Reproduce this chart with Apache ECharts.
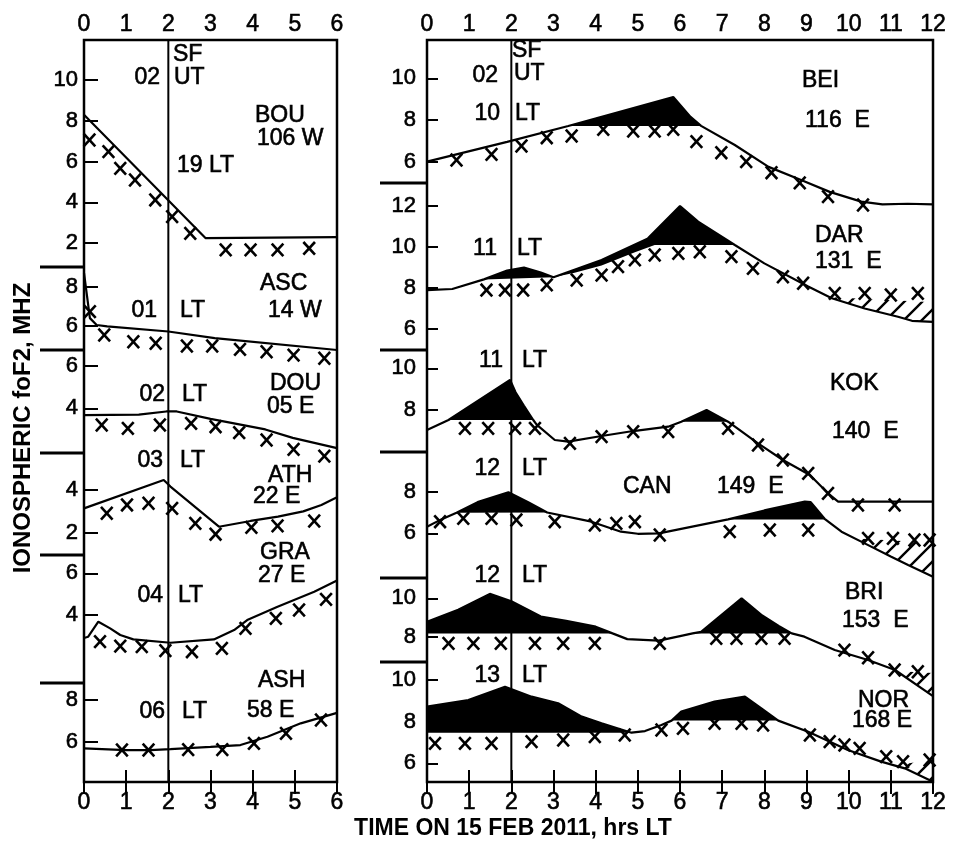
<!DOCTYPE html>
<html><head><meta charset="utf-8">
<script src="https://cdn.jsdelivr.net/npm/echarts@6/dist/echarts.min.js"></script>
<style>html,body{margin:0;padding:0;background:#fff}#c{width:953px;height:844px}</style>
</head><body><div id="c"></div>
<script>
// ---------- tick labels ----------
const leftHours = [0,1,2,3,4,5,6];
const rightHours = [0,1,2,3,4,5,6,7,8,9,10,11,12];
const sfHour = 2;

// ---------- left column (hours LT, foF2 MHz) ----------
const bouCurve = [[0,8.3],[2.88,2.25],[6,2.3]];
const bouObs = [[0.13,7.06],[0.58,6.49],[0.86,5.67],[1.21,5.1],[1.69,4.12],[2.09,3.3],[2.52,2.48],[3.36,1.67],[3.95,1.67],[4.59,1.67],[5.34,1.75]];
const bouTicks = [2,4,6,8,10];

const ascCurve = [[0,8.7],[0.14,6.4],[0.3,6.05],[0.55,5.98],[2,5.72],[3.1,5.38],[6,4.78]];
const ascObs = [[0.14,6.73],[0.48,5.54],[1.17,5.2],[1.7,5.12],[2.44,4.98],[3.04,4.98],[3.7,4.81],[4.33,4.69],[4.97,4.52],[5.7,4.36]];
const ascTicks = [6,8];

const douCurve = [[0,3.68],[1.3,3.7],[1.95,3.85],[2.2,3.85],[3.0,3.5],[4.3,3.0],[4.95,2.6],[6,2.12]];
const douObs = [[0.42,3.21],[1.04,3.05],[1.8,3.21],[2.54,3.29],[3.12,3.13],[3.68,2.85],[4.33,2.5],[4.97,2.06],[5.7,1.74]];
const douTicks = [4,6];

const athCurve = [[0,3.14],[1.89,4.47],[2.05,4.16],[3.2,2.28],[3.95,2.55],[4.6,2.75],[5.2,3.0],[5.63,3.3],[6,3.66]];
const athObs = [[0.54,2.91],[1.02,3.3],[1.53,3.38],[2.09,3.14],[2.64,2.44],[3.12,1.93],[3.97,2.25],[4.59,2.32],[5.46,2.55]];
const athTicks = [2,4];

const graCurve = [[0,2.9],[0.1,2.96],[0.34,3.68],[0.62,3.36],[0.86,3.04],[1.17,2.83],[2.05,2.67],[3.08,2.83],[3.56,3.28],[3.87,3.76],[4.59,4.4],[5.46,5.12],[6,5.66]];
const graObs = [[0.38,2.72],[0.86,2.51],[1.37,2.48],[1.93,2.29],[2.56,2.24],[3.27,2.4],[3.83,3.36],[4.55,3.84],[5.1,4.24],[5.74,4.75]];
const graTicks = [4,6];

const ashCurve = [[0,5.68],[1.0,5.6],[1.57,5.6],[2.05,5.64],[3.0,5.75],[3.71,5.84],[4.35,6.24],[5.14,6.88],[6,7.38]];
const ashObs = [[0.9,5.6],[1.53,5.6],[2.47,5.62],[3.28,5.62],[4.03,5.92],[4.79,6.4],[5.62,7.04]];
const ashTicks = [6,8];

// ---------- right column ----------
const beiCurve = [[0,6.0],[1.9,6.95],[3.35,7.71],[5.84,9.1],[6.25,8.15],[6.5,7.72],[7.3,6.8],[8.1,5.75],[8.9,5.1],[9.55,4.55],[10.3,4.08],[10.8,3.95],[11.4,3.98],[12,3.95]];
const beiObs = [[0.70,6.08],[1.53,6.35],[2.24,6.75],[2.84,7.15],[3.43,7.23],[4.18,7.55],[4.89,7.47],[5.40,7.47],[5.84,7.55],[6.39,6.96],[6.98,6.43],[7.57,6.0],[8.17,5.47],[8.84,4.98],[9.51,4.32],[10.34,3.92]];
const beiFills = [[[3.35,7.71],[5.84,9.1],[6.25,8.15],[6.5,7.71]]];
const beiTicks = [6,8,10];

const darCurve = [[0,7.9],[0.6,7.95],[1.35,8.42],[1.9,8.85],[2.3,9.0],[2.7,8.75],[3.0,8.52],[4.14,9.37],[5.24,10.42],[6.0,12.0],[6.43,11.24],[7.3,10.1],[8.0,9.2],[9.04,8.07],[9.6,7.5],[10.38,7.0],[11.17,6.6],[11.5,6.4],[12,6.35]];
const darObs = [[1.41,7.9],[1.85,7.9],[2.28,7.9],[2.84,8.15],[3.55,8.39],[4.14,8.63],[4.53,9.04],[4.93,9.37],[5.4,9.61],[5.96,9.69],[6.47,9.77],[7.22,9.53],[7.73,8.96],[8.44,8.55],[8.92,8.23],[9.67,7.74],[10.38,7.74],[11.0,7.66],[11.64,7.74]];
const darFills = [
  [[1.35,8.42],[1.9,8.85],[2.3,9.0],[2.7,8.75],[3.0,8.52]],
  [[3.0,8.52],[4.14,9.37],[5.24,10.42],[6.0,12.0],[6.43,11.24],[7.3,10.1],[5.4,10.1],[4.93,9.75],[4.14,9.1],[3.5,8.75]]
];
const darHatch = [[[9.6,7.55],[12,7.3],[12,6.35],[11.5,6.4],[11.17,6.6],[10.38,7.0],[9.6,7.5]]];
const darTicks = [6,8,10,12];

const kokCurve = [[0,7.04],[0.51,7.52],[1.97,9.44],[2.1,8.85],[2.3,8.2],[2.52,7.52],[2.6,7.3],[3.03,6.56],[3.35,6.48],[4.14,6.75],[4.89,6.99],[5.72,7.2],[6.03,7.44],[6.63,8.0],[7.14,7.44],[7.85,6.4],[8.44,5.6],[9.08,4.88],[9.51,4.0],[9.75,3.6],[12,3.6]];
const kokObs = [[0.9,7.12],[1.45,7.12],[2.09,7.12],[2.56,7.12],[3.39,6.4],[4.14,6.72],[4.89,6.96],[5.72,6.96],[7.14,7.12],[7.85,6.32],[8.44,5.6],[9.04,4.96],[9.51,4.0],[10.22,3.44],[11.09,3.44]];
const kokFills = [
  [[0.51,7.52],[1.97,9.44],[2.1,8.85],[2.3,8.2],[2.52,7.52]],
  [[6.03,7.44],[6.63,8.0],[7.14,7.44]]
];
const kokTicks = [8,10];

const canCurve = [[0,6.32],[0.27,6.6],[0.7,6.99],[1.2,7.5],[1.93,7.97],[2.4,7.5],[2.85,7.0],[3.9,6.56],[4.6,6.08],[5.0,5.98],[5.5,6.0],[7.14,6.67],[8.0,7.1],[8.96,7.52],[9.1,7.5],[9.43,6.7],[9.83,6.08],[10.38,5.52],[11.01,4.88],[11.41,4.48],[12,3.92]];
const canObs = [[0.31,6.56],[0.86,6.72],[1.53,6.72],[2.12,6.64],[3.03,6.56],[3.98,6.4],[4.49,6.48],[4.93,6.56],[5.52,5.92],[7.18,6.08],[8.13,6.16],[9.04,6.16],[10.46,5.76],[11.05,5.76],[11.56,5.68],[11.92,5.68]];
const canFills = [
  [[0.7,6.99],[1.2,7.5],[1.93,7.97],[2.4,7.5],[2.85,7.0]],
  [[7.14,6.67],[8.0,7.1],[8.96,7.52],[9.1,7.5],[9.43,6.67]]
];
const canHatch = [[[10.2,5.75],[12,5.55],[12,3.92],[11.41,4.48],[11.01,4.88],[10.38,5.52],[10.2,5.7]]];
const canTicks = [6,8];

const briCurve = [[0,8.78],[0.74,9.4],[1.49,10.23],[2.0,9.85],[2.7,9.05],[3.3,8.83],[4.0,8.52],[4.4,8.17],[4.75,7.87],[5.5,7.79],[6.0,8.03],[6.3,8.17],[6.5,8.25],[7.46,10.0],[7.95,9.1],[8.35,8.55],[8.65,8.17],[8.95,8.0],[9.67,7.3],[10.46,6.78],[11.1,6.26],[12,4.9]];
const briObs = [[0.51,7.65],[1.1,7.65],[1.75,7.65],[2.56,7.65],[3.23,7.65],[3.98,7.65],[5.52,7.65],[6.86,7.91],[7.34,7.91],[7.93,7.91],[8.48,7.91],[9.9,7.3],[10.46,6.9],[11.09,6.26],[11.64,6.17]];
const briFills = [
  [[0,8.17],[0,8.78],[0.74,9.4],[1.49,10.23],[2.0,9.85],[2.7,9.05],[3.3,8.83],[4.0,8.52],[4.4,8.17]],
  [[6.3,8.17],[6.5,8.25],[7.46,10.0],[7.95,9.1],[8.35,8.55],[8.65,8.17]]
];
const briHatch = [[[11.2,6.2],[12,6.1],[12,4.9],[11.2,6.12]]];
const briTicks = [8,10];

const norCurve = [[0,8.72],[0.98,9.04],[1.85,9.68],[2.48,9.2],[3.11,8.88],[3.67,8.24],[4.14,7.92],[4.85,7.47],[5.17,7.55],[5.56,7.84],[5.8,8.05],[6.03,8.48],[6.82,8.96],[7.54,9.2],[7.93,8.64],[8.33,8.05],[9.04,7.52],[9.98,6.64],[10.77,6.08],[11.33,5.76],[12,5.12]];
const norObs = [[0.19,6.96],[0.9,6.96],[1.53,6.96],[2.48,7.04],[3.23,7.12],[3.98,7.28],[4.69,7.36],[5.56,7.6],[6.07,7.68],[6.82,7.92],[7.46,7.92],[7.97,7.84],[9.08,7.36],[9.55,7.04],[9.9,6.88],[10.26,6.72],[10.89,6.32],[11.29,6.08],[11.92,6.16]];
const norFills = [
  [[0,7.47],[0,8.72],[0.98,9.04],[1.85,9.68],[2.48,9.2],[3.11,8.88],[3.67,8.24],[4.14,7.92],[4.85,7.47]],
  [[5.8,8.05],[6.03,8.48],[6.82,8.96],[7.54,9.2],[7.93,8.64],[8.33,8.05]]
];
const norHatch = [[[11.3,5.95],[12,6.2],[12,5.12],[11.33,5.76]]];
const norTicks = [6,8,10];

// ---------- layout ----------
const FONT = '"Liberation Sans", Arial, sans-serif';
const TOP = 40, BOTTOM = 782, HEIGHT = BOTTOM - TOP;
const cols = [
  {left: 84, width: 253, hours: leftHours, tickLen: 14, labelMargin: 6, sepX: 40},
  {left: 427, width: 506, hours: rightHours, tickLen: 11, labelMargin: 11, sepX: 380}
];
// ref: [value, pixelY, pixelsPerUnit]
const panels = [
  {col:0, curve:bouCurve, obs:bouObs, fills:[], hatch:[], ticks:bouTicks, ref:[10,80,20.4]},
  {col:0, curve:ascCurve, obs:ascObs, fills:[], hatch:[], ticks:ascTicks, ref:[8,286.7,19.65]},
  {col:0, curve:douCurve, obs:douObs, fills:[], hatch:[], ticks:douTicks, ref:[6,366,21.15]},
  {col:0, curve:athCurve, obs:athObs, fills:[], hatch:[], ticks:athTicks, ref:[4,490,21.35]},
  {col:0, curve:graCurve, obs:graObs, fills:[], hatch:[], ticks:graTicks, ref:[6,573.3,20.85]},
  {col:0, curve:ashCurve, obs:ashObs, fills:[], hatch:[], ticks:ashTicks, ref:[8,700,20.85]},
  {col:1, curve:beiCurve, obs:beiObs, fills:beiFills, hatch:[], ticks:beiTicks, ref:[8,120,20.83]},
  {col:1, curve:darCurve, obs:darObs, fills:darFills, hatch:darHatch, ticks:darTicks, ref:[8,288,20.5]},
  {col:1, curve:kokCurve, obs:kokObs, fills:kokFills, hatch:[], ticks:kokTicks, ref:[8,410,20.83]},
  {col:1, curve:canCurve, obs:canObs, fills:canFills, hatch:canHatch, ticks:canTicks, ref:[8,491.7,20.83]},
  {col:1, curve:briCurve, obs:briObs, fills:briFills, hatch:briHatch, ticks:briTicks, ref:[10,598.3,19.17]},
  {col:1, curve:norCurve, obs:norObs, fills:norFills, hatch:norHatch, ticks:norTicks, ref:[10,680,20.83]}
];
const separators = [[0,[267,350,453,555,683]],[1,[183,350,452,578,662]]];

const texts = [
  // left column
  ['SF',173,55,'left'],['UT',174,78,'left'],['02',160,78,'right'],
  ['BOU',255,116,'left'],['106 W',257,139,'left'],['19 LT',177,166,'left'],
  ['01',157,311,'right'],['LT',180,311,'left'],['ASC',260,284,'left'],['14 W',268,311,'left'],
  ['02',165,395,'right'],['LT',182,395,'left'],['DOU',270,384,'left'],['05 E',267,407,'left'],
  ['03',163,461,'right'],['LT',180,461,'left'],['ATH',268,476,'left'],['22 E',253,497,'left'],
  ['GRA',260,553,'left'],['27 E',258,576,'left'],['04',163,596,'right'],['LT',178,596,'left'],
  ['ASH',258,681,'left'],['58 E',247,711,'left'],['06',165,712,'right'],['LT',182,712,'left'],
  // right column
  ['SF',512,51,'left'],['UT',514,74,'left'],['02',498,76,'right'],
  ['10',500,114,'right'],['LT',515,114,'left'],['BEI',802,81,'left'],['116  E',805,121,'left'],
  ['11',497,249,'right'],['LT',517,249,'left'],['DAR',815,236,'left'],['131  E',815,262,'left'],
  ['11',503,361,'right'],['LT',522,361,'left'],['KOK',830,384,'left'],['140  E',832,432,'left'],
  ['12',500,469,'right'],['LT',522,469,'left'],['CAN',623,487,'left'],['149  E',717,487,'left'],
  ['12',500,576,'right'],['LT',522,576,'left'],['BRI',845,593,'left'],['153  E',842,621,'left'],
  ['13',500,676,'right'],['LT',522,676,'left'],['NOR',858,701,'left'],['168 E',852,721,'left']
];

function hatchPattern() {
  const s = 18, c = document.createElement('canvas');
  c.width = s; c.height = s;
  const g = c.getContext('2d');
  g.strokeStyle = '#000'; g.lineWidth = 2.4; g.lineCap = 'square';
  g.beginPath();
  g.moveTo(0, s); g.lineTo(s, 0);
  g.moveTo(-3, 3); g.lineTo(3, -3);
  g.moveTo(s - 3, s + 3); g.lineTo(s + 3, s - 3);
  g.stroke();
  return c;
}
const hatchFill = {image: hatchPattern(), repeat: 'repeat'};

const grid = [], xAxis = [], yAxis = [], series = [];
// frames
cols.forEach((c, ci) => {
  grid.push({left: c.left, top: TOP, width: c.width, height: HEIGHT, show: true,
    borderColor: '#000', borderWidth: 2.5, backgroundColor: 'transparent', outerBoundsMode: 'none'});
  const maxH = c.hours[c.hours.length - 1];
  ['top', 'bottom'].forEach(pos => {
    xAxis.push({gridIndex: ci, type: 'value', position: pos, min: c.hours[0], max: maxH, interval: 1,
      axisLine: {show: false}, splitLine: {show: false},
      axisTick: {show: true, inside: true, length: 12, lineStyle: {color: '#000', width: 2}},
      axisLabel: {show: true, fontSize: 23, color: '#000', fontFamily: FONT, margin: pos === 'top' ? 4 : 9,
        textBorderColor: '#000', textBorderWidth: 0.6}});
  });
  yAxis.push({gridIndex: ci, type: 'value', min: 0, max: 1, show: false});
  series.push({type: 'line', xAxisIndex: ci * 2 + 1, yAxisIndex: ci, data: [[sfHour, 0], [sfHour, 1]],
    symbol: 'none', lineStyle: {color: '#000', width: 2}, silent: true, z: 2});
});

function polyRender(polys, fill) {
  return function (params, api) {
    const pts = polys[params.dataIndex].map(p => api.coord(p));
    return {type: 'polygon', shape: {points: pts}, style: {fill: fill, stroke: null}};
  };
}
function crossRender(params, api) {
  const c = api.coord([api.value(0), api.value(1)]);
  const h = 5.8, st = {stroke: '#000', lineWidth: 2.6, lineCap: 'butt'};
  return {type: 'group', children: [
    {type: 'line', shape: {x1: c[0] - h, y1: c[1] - h - 0.5, x2: c[0] + h, y2: c[1] + h + 0.5}, style: st},
    {type: 'line', shape: {x1: c[0] + h, y1: c[1] - h - 0.5, x2: c[0] - h, y2: c[1] + h + 0.5}, style: st}
  ]};
}

panels.forEach((p, i) => {
  const c = cols[p.col];
  const gi = grid.length;
  const [rv, ry, ppu] = p.ref;
  const ymin = rv - (BOTTOM - ry) / ppu;
  const ymax = rv + (ry - TOP) / ppu;
  grid.push({left: c.left, top: TOP, width: c.width, height: HEIGHT, show: false, outerBoundsMode: 'none'});
  const xi = xAxis.length, yi = yAxis.length;
  xAxis.push({gridIndex: gi, type: 'value', min: c.hours[0], max: c.hours[c.hours.length - 1], show: false});
  yAxis.push({gridIndex: gi, type: 'value', position: 'left', min: ymin, max: ymax,
    axisLine: {show: false}, splitLine: {show: false},
    axisTick: {show: true, inside: true, length: c.tickLen, lineStyle: {color: '#000', width: 2}, customValues: p.ticks},
    axisLabel: {show: true, customValues: p.ticks, margin: c.labelMargin, fontSize: 22, color: '#000', fontFamily: FONT,
      textBorderColor: '#000', textBorderWidth: 0.6}});
  if (p.fills.length) {
    series.push({type: 'custom', xAxisIndex: xi, yAxisIndex: yi, silent: true, z: 3, clip: false,
      data: p.fills.map(f => [f[0][0], f[0][1]]), encode: {x: 0, y: 1},
      renderItem: polyRender(p.fills, '#000')});
  }
  if (p.hatch.length) {
    series.push({type: 'custom', xAxisIndex: xi, yAxisIndex: yi, silent: true, z: 3, clip: false,
      data: p.hatch.map(f => [f[0][0], f[0][1]]), encode: {x: 0, y: 1},
      renderItem: polyRender(p.hatch, hatchFill)});
  }
  series.push({type: 'line', xAxisIndex: xi, yAxisIndex: yi, data: p.curve, symbol: 'none',
    lineStyle: {color: '#000', width: 2.2}, silent: true, z: 4});
  series.push({type: 'custom', xAxisIndex: xi, yAxisIndex: yi, data: p.obs, encode: {x: 0, y: 1},
    renderItem: crossRender, silent: true, z: 5, clip: false});
});

const graphic = [];
separators.forEach(([ci, ys]) => {
  const c = cols[ci];
  ys.forEach(y => graphic.push({type: 'line', shape: {x1: c.sepX, y1: y, x2: c.left, y2: y},
    style: {stroke: '#000', lineWidth: 3}, silent: true}));
});
texts.forEach(([t, x, y, al]) => graphic.push({type: 'text', x: x, y: y, silent: true,
  style: {text: t, fill: '#000', font: '23px ' + FONT, align: al, verticalAlign: 'middle',
    textAlign: al, textVerticalAlign: 'middle', stroke: '#000', lineWidth: 0.6}}));
graphic.push({type: 'text', x: 23, y: 428, rotation: Math.PI / 2, silent: true,
  style: {text: 'IONOSPHERIC foF2, MHZ', fill: '#000', font: 'bold 24px ' + FONT,
    align: 'center', verticalAlign: 'middle', textAlign: 'center', textVerticalAlign: 'middle'}});
graphic.push({type: 'text', x: 513, y: 829, silent: true,
  style: {text: 'TIME ON 15 FEB 2011, hrs LT', fill: '#000', font: 'bold 23px ' + FONT,
    align: 'center', verticalAlign: 'middle', textAlign: 'center', textVerticalAlign: 'middle'}});

const chart = echarts.init(document.getElementById('c'), null, {renderer: 'canvas'});
chart.setOption({animation: false, backgroundColor: '#fff', grid, xAxis, yAxis, series, graphic});
</script></body></html>
